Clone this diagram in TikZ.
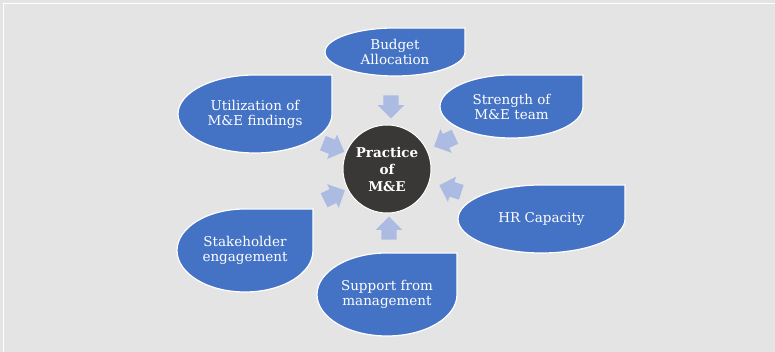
\documentclass[tikz,border=0pt]{standalone}
\usepackage{fontspec}
\setmainfont{DejaVu Serif}
\usetikzlibrary{shapes.arrows}
\definecolor{panel}{HTML}{E4E4E4}
\definecolor{dropblue}{HTML}{4472C4}
\definecolor{hubdark}{HTML}{3A3837}
\definecolor{arrowsoft}{HTML}{ABBBE1}
\tikzset{
  drop/.style={fill=dropblue,draw=white,line width=1.2pt},
  droptext/.style={text=white,align=center,inner sep=0pt,font=\fontsize{13.5}{15}\selectfont},
  hub/.style={circle,fill=hubdark,draw=white,line width=1pt,minimum size=88pt,inner sep=0pt,
    text=white,align=center,font=\fontsize{13.5}{17}\selectfont\bfseries},
  inarr/.style={single arrow,fill=arrowsoft,draw=none,minimum width=26pt,minimum height=23pt,
    single arrow head extend=5.5pt,inner xsep=0pt,inner ysep=7.5pt}
}
% teardrop: name, centre x, centre y, x radius, y radius, text (square corner top right)
\newcommand{\dropnode}[6]{%
  \draw[drop] (#2+#4,#3+#5) -- (#2,#3+#5)
    arc[start angle=90,end angle=360,x radius=#4,y radius=#5] -- cycle;
  \node[droptext] (#1) at (#2,#3) {#6};}

\begin{document}
\begin{tikzpicture}[x=1pt,y=1pt]
  \useasboundingbox (0,0) rectangle (775,352);
  \fill[panel] (0,0) rectangle (775,352);
  \draw[white,line width=0.8pt] (3,0) -- (3,349) -- (775,349);

  % outer factors
  \dropnode{budget}{395}{300}{70}{24}{Budget\\Allocation}
  \dropnode{usage}{255}{238}{77}{39}{Utilization of\\M\&E findings}
  \dropnode{team}{511.5}{245.5}{71.5}{31.5}{Strength of\\M\&E team}
  \dropnode{hrcap}{541.5}{133}{83.5}{34}{HR Capacity}
  \dropnode{stake}{245}{101.5}{68}{41.5}{Stakeholder\\engagement}
  \dropnode{mgmt}{387}{57.5}{70}{41.5}{Support from\\management}

  % centre
  \node[hub] (practice) at (387,183) {Practice\\of\\M\&E};

  % arrows pointing in
  \node[inarr,rotate=-90] (a1) at (391,249) {};
  \node[inarr,rotate=-22] (a2) at (330,206) {};
  \node[inarr,rotate=205] (a3) at (448,212) {};
  \node[inarr,rotate=162] (a4) at (454,162) {};
  \node[inarr,rotate=90] (a5) at (389,120) {};
  \node[inarr,rotate=26] (a6) at (331,155) {};
\end{tikzpicture}
\end{document}
